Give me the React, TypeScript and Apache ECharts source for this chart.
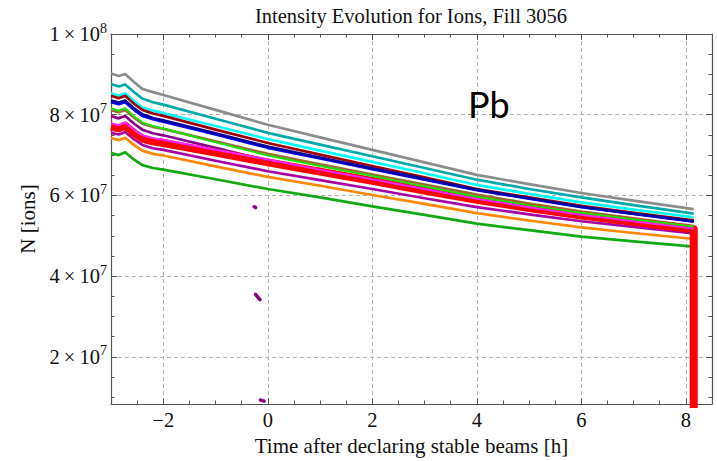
import React, { useEffect, useRef } from 'react';
import * as echarts from 'echarts';

// Time after declaring stable beams [h]
const TIME_H = [-3, -2.85, -2.73, -2.55, -2.4, -2.2, -2, -1, 0, 1, 2, 3, 4, 5, 6, 7, 8.15];

// Intensities in units of 10^6 ions, one array per curve
const GRAY = [90.2, 89.6, 90.1, 88.0, 86.4, 85.6, 84.9, 81.2, 77.5, 74.4, 71.3, 68.2, 65.1, 62.8, 60.6, 58.7, 56.6];
const TEAL = [87.6, 87.0, 87.5, 85.5, 84.0, 83.1, 82.5, 79.0, 75.5, 72.6, 69.7, 66.8, 63.9, 61.6, 59.5, 57.6, 55.5];
const CYAN = [85.3, 84.7, 85.3, 83.3, 81.8, 81.0, 80.4, 77.2, 74.0, 71.1, 68.3, 65.5, 62.6, 60.4, 58.3, 56.5, 54.6];
const DARKRED = [84.7, 84.1, 84.7, 82.6, 81.2, 80.3, 79.7, 76.3, 73.0, 70.1, 67.3, 64.5, 61.6, 59.5, 57.4, 55.7, 53.8];
const BLUE = [83.1, 82.6, 83.1, 81.1, 79.7, 78.9, 78.3, 75.1, 71.8, 69.2, 66.5, 63.9, 61.3, 59.2, 57.1, 55.4, 53.5];
const NAVY = [83.5, 83.0, 83.5, 81.5, 80.1, 79.2, 78.6, 75.4, 72.1, 69.4, 66.7, 64.1, 61.4, 59.3, 57.2, 55.5, 53.6];
const BROWN = [81.1, 80.6, 81.2, 79.2, 77.8, 77.0, 76.5, 73.4, 70.3, 67.7, 65.2, 62.7, 60.2, 58.0, 56.0, 54.3, 52.4];
const GREEN_LIGHT = [81.6, 81.0, 81.6, 79.5, 78.1, 77.2, 76.6, 73.2, 69.9, 67.3, 64.8, 62.2, 59.7, 57.6, 55.7, 54.1, 52.3];
const DARKMAGENTA = [79.7, 79.1, 79.7, 77.7, 76.3, 75.4, 74.9, 71.8, 68.6, 66.1, 63.5, 61.0, 58.4, 56.6, 54.8, 53.3, 51.7];
const MAGENTA = [77.9, 77.4, 78.1, 76.2, 74.9, 74.2, 73.8, 71.3, 68.9, 66.4, 64.0, 61.6, 59.2, 57.1, 55.2, 53.6, 51.8];
const RED = [77.0, 76.6, 77.3, 75.4, 74.1, 73.4, 73.0, 70.6, 68.2, 65.9, 63.6, 61.2, 58.9, 56.9, 55.0, 53.4, 51.6];
const RED_DUMP = 0; // beam dump at the end of the fill
const PURPLE = [75.5, 75.1, 75.7, 73.8, 72.5, 71.7, 71.3, 68.6, 66.0, 63.8, 61.6, 59.3, 57.1, 55.3, 53.6, 52.2, 50.6];
const ORANGE = [74.2, 73.7, 74.3, 72.4, 71.1, 70.3, 69.9, 67.2, 64.6, 62.4, 60.1, 57.9, 55.6, 53.8, 52.1, 50.7, 49.2];
const GREEN_DARK = [70.5, 70.0, 70.7, 68.8, 67.5, 66.8, 66.4, 64.0, 61.6, 59.5, 57.3, 55.2, 53.0, 51.4, 49.8, 48.6, 47.3];

// stray purple fragments near t = 0 (time [h], 10^6 ions)
const STRAY_T = [[-0.26, -0.235], [-0.235, -0.15], [-0.14, -0.07]];
const STRAY_N = [[57.2, 57.0], [35.5, 34.2], [9.3, 9.05]];

const X_MIN = -3;
const X_MAX = 8.5;
const Y_MIN = 8.3;
const Y_MAX = 100;
const X_MAJOR = [-2, 0, 2, 4, 6, 8];
const X_MINOR = [-2.5, -1.5, -1, -0.5, 0.5, 1, 1.5, 2.5, 3, 3.5, 4.5, 5, 5.5, 6.5, 7, 7.5];
const Y_MAJOR = [20, 40, 60, 80, 100];
const Y_MINOR = [10, 15, 25, 30, 35, 45, 50, 55, 65, 70, 75, 85, 90, 95];

const TITLE = 'Intensity Evolution for Ions, Fill 3056';
const X_NAME = 'Time after declaring stable beams [h]';
const Y_NAME = 'N [ions]';
const NOTE = 'Pb';

const STYLE: Array<[number[], string, number]> = [
  [GRAY, '#8c8c8c', 2.7],
  [TEAL, '#00a9a9', 2.7],
  [CYAN, '#00ffff', 2.7],
  [BLUE, '#0000ff', 2.7],
  [DARKRED, '#a00000', 2.7],
  [NAVY, '#0000a0', 2.7],
  [BROWN, '#9c6a35', 2.7],
  [DARKMAGENTA, '#880088', 2.7],
  [PURPLE, '#a800a8', 2.7],
  [ORANGE, '#ff8800', 2.7],
  [GREEN_DARK, '#11aa11', 2.7],
];

const SERIF = 'Liberation Serif';
const AX = '#555';

export default function App() {
  const ref = useRef<HTMLDivElement>(null);
  useEffect(() => {
    if (!ref.current) return;
    const chart = echarts.init(ref.current, null, { renderer: 'svg' });
    const toPts = (arr: number[]) => TIME_H.map((t, i) => [t, arr[i] * 1e6]);
    const line = (data: any, color: string, width: number, z = 2) => ({
      type: 'line',
      data,
      showSymbol: false,
      symbol: 'none',
      z,
      lineStyle: { color, width, join: 'round', cap: 'butt' },
      emphasis: { disabled: true },
      xAxisIndex: 0,
      yAxisIndex: 0,
    });
    const series: any[] = STYLE.map(([arr, c, w]) => line(toPts(arr), c, w));
    const redData = toPts(RED);
    redData.push([TIME_H[TIME_H.length - 1], RED_DUMP]);
    series.push(line(redData, '#ff0000', 8, 3));
    series.push(line(toPts(MAGENTA), '#ff22ff', 2, 4));
    series.push(line(toPts(GREEN_LIGHT), '#22dd00', 2, 4));
    STRAY_T.forEach((ts, k) => {
      const s = line(ts.map((t, i) => [t, STRAY_N[k][i] * 1e6]), '#880088', 3.5, 4);
      s.lineStyle.cap = 'round' as any;
      series.push(s);
    });

    const majorY = Y_MAJOR.map((v) => v * 1e6);
    const minorY = Y_MINOR.map((v) => v * 1e6);
    const axisLine = { show: true, onZero: false, lineStyle: { color: AX, width: 1.2 } };
    const noLine = { show: false, onZero: false };
    const fmtY = (v: number) => {
      const e = Math.floor(Math.log10(v) + 1e-9);
      const m = Math.round(v / Math.pow(10, e));
      return `{b|${m}\u2009×\u200910}{s|${e}}`;
    };
    const baseX = { type: 'value', min: X_MIN, max: X_MAX, splitNumber: 5 };
    const baseY = { type: 'value', min: Y_MIN * 1e6, max: Y_MAX * 1e6, splitNumber: 5 };
    const tick = (vals: number[], len: number) => ({
      show: true, inside: true, length: len, customValues: vals, lineStyle: { color: AX, width: 1 },
    });

    chart.setOption({
      animation: false,
      grid: { left: 111, right: 5, top: 34, bottom: 56, containLabel: false },
      graphic: [
        {
          type: 'text', x: 411, y: 16, z: 10,
          style: { text: TITLE, fontFamily: SERIF, fontSize: 20.5, fill: '#111', align: 'center', verticalAlign: 'middle' },
        },
        {
          type: 'text', x: 468, y: 104, z: 10,
          style: { text: NOTE, fontFamily: 'Lato', fontSize: 36, fill: '#000', align: 'left', verticalAlign: 'middle' },
        },
      ],
      xAxis: [
        {
          ...baseX, position: 'bottom',
          name: X_NAME, nameLocation: 'middle', nameGap: 30,
          nameTextStyle: { fontFamily: SERIF, fontSize: 21, color: '#111' },
          axisLine,
          axisTick: tick(X_MAJOR, 6),
          axisLabel: {
            show: true, customValues: X_MAJOR, margin: 5,
            fontFamily: SERIF, fontSize: 20.5, color: '#111',
            formatter: (v: number) => (v < 0 ? '\u2212' + Math.abs(v) : String(v)),
          },
          splitLine: { show: true, lineStyle: { color: '#b0b0b0', type: [4, 3], width: 1 } },
        },
        {
          ...baseX, position: 'bottom', axisLine: noLine, axisTick: tick(X_MINOR, 3.5),
          axisLabel: { show: false }, splitLine: { show: false },
        },
        {
          ...baseX, position: 'top', axisLine, axisTick: tick(X_MAJOR, 6),
          axisLabel: { show: false }, splitLine: { show: false },
        },
        {
          ...baseX, position: 'top', axisLine: noLine, axisTick: tick(X_MINOR, 3.5),
          axisLabel: { show: false }, splitLine: { show: false },
        },
      ],
      yAxis: [
        {
          ...baseY, position: 'left',
          name: Y_NAME, nameLocation: 'middle', nameGap: 70,
          nameTextStyle: { fontFamily: SERIF, fontSize: 21, color: '#111' },
          axisLine,
          axisTick: tick(majorY, 6),
          axisLabel: {
            show: true, customValues: majorY, margin: 4,
            formatter: fmtY,
            rich: {
              b: { fontFamily: SERIF, fontSize: 20.5, color: '#111', lineHeight: 26 },
              s: { fontFamily: SERIF, fontSize: 14, color: '#111', lineHeight: 26, verticalAlign: 'top' },
            },
          },
          splitLine: { show: true, lineStyle: { color: '#b0b0b0', type: [4, 3], width: 1 } },
        },
        {
          ...baseY, position: 'left', axisLine: noLine, axisTick: tick(minorY, 3.5),
          axisLabel: { show: false }, splitLine: { show: false },
        },
        {
          ...baseY, position: 'right', axisLine, axisTick: tick(majorY, 6),
          axisLabel: { show: false }, splitLine: { show: false },
        },
        {
          ...baseY, position: 'right', axisLine: noLine, axisTick: tick(minorY, 3.5),
          axisLabel: { show: false }, splitLine: { show: false },
        },
      ],
      series,
    });
    return () => chart.dispose();
  }, []);
  return (
    <div
      ref={ref}
      style={{ position: 'fixed', left: 0, top: 0, width: 717, height: 461, background: '#fff' }}
    />
  );
}
